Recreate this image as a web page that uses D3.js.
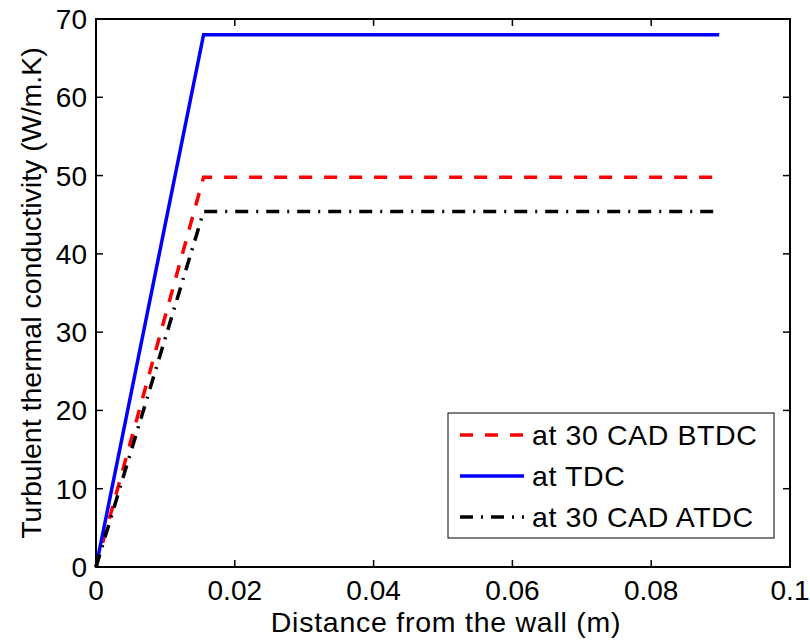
<!doctype html>
<html>
<head>
<meta charset="utf-8">
<style>
  body { margin: 0; background: #fff; }
  svg { display: block; font-family: "Liberation Sans", Arial, Helvetica, sans-serif; }
</style>
</head>
<body>
<svg></svg>
<script src="https://cdn.jsdelivr.net/npm/d3@7"></script>
<script>
// data
let distance = [0, 0.0155, 0.0898];
let btdc = [0, 49.8, 49.8];
let tdc = [0, 68, 68];
let atdc = [0, 45.4, 45.4];

let xTicks = [0, 0.02, 0.04, 0.06, 0.08, 0.1];
let yTicks = [0, 10, 20, 30, 40, 50, 60, 70];

let series = [
  { name: "at 30 CAD BTDC", values: btdc, color: "#ff0000", dash: "13,12" },
  { name: "at TDC", values: tdc, color: "#0000ff", dash: null },
  { name: "at 30 CAD ATDC", values: atdc, color: "#000000", dash: "13,8,2,8" }
];

let width = 810,
    height = 640;
let margin = { left: 96, right: 20, top: 19, bottom: 73 };

let svg = d3.select("svg")
    .attr("width", width)
    .attr("height", height);

let x = d3.scaleLinear()
    .domain([0, 0.1])
    .range([margin.left, width - margin.right]);

let y = d3.scaleLinear()
    .domain([0, 70])
    .range([height - margin.bottom, margin.top]);

let tickLen = 7;

// inward ticks on all four sides
let g = svg.append("g").attr("id", "ticks");
g.selectAll("line.xb").data(xTicks).enter().append("line")
    .attr("x1", d => x(d)).attr("x2", d => x(d))
    .attr("y1", y(0)).attr("y2", y(0) - tickLen);
g.selectAll("line.xt").data(xTicks).enter().append("line")
    .attr("x1", d => x(d)).attr("x2", d => x(d))
    .attr("y1", y(70)).attr("y2", y(70) + tickLen);
g.selectAll("line.yl").data(yTicks).enter().append("line")
    .attr("y1", d => y(d)).attr("y2", d => y(d))
    .attr("x1", x(0)).attr("x2", x(0) + tickLen);
g.selectAll("line.yr").data(yTicks).enter().append("line")
    .attr("y1", d => y(d)).attr("y2", d => y(d))
    .attr("x1", x(0.1)).attr("x2", x(0.1) - tickLen);
g.selectAll("line").attr("stroke", "black").attr("stroke-width", 1.5);

// tick labels
svg.append("g").selectAll("text").data(xTicks).enter().append("text")
    .attr("x", d => x(d))
    .attr("y", 600)
    .attr("text-anchor", "middle")
    .style("font-size", "28px")
    .text(d => d3.format("~g")(d));

svg.append("g").selectAll("text").data(yTicks).enter().append("text")
    .attr("x", x(0) - 9)
    .attr("y", d => y(d) + 10)
    .attr("text-anchor", "end")
    .style("font-size", "28px")
    .text(d => d);

// axis labels
svg.append("text")
    .attr("x", 446)
    .attr("y", 632)
    .attr("text-anchor", "middle")
    .style("font-size", "28.5px")
    .style("letter-spacing", "0.75px")
    .text("Distance from the wall (m)");

svg.append("text")
    .attr("transform", "translate(41," + (y(0) + y(70)) / 2 + ") rotate(-90)")
    .attr("text-anchor", "middle")
    .style("font-size", "28.5px")
    .text("Turbulent thermal conductivity (W/m.K)");

// lines
let line = d3.line()
    .x((d, i) => x(distance[i]))
    .y(d => y(d));

svg.append("g").attr("id", "lines")
    .selectAll("path")
    .data(series)
  .enter()
    .append("path")
    .attr("fill", "none")
    .attr("stroke", d => d.color)
    .attr("stroke-width", 3.5)
    .attr("stroke-dasharray", d => d.dash)
    .attr("d", d => line(d.values));

// box
svg.append("rect")
    .attr("x", x(0)).attr("y", y(70))
    .attr("width", x(0.1) - x(0))
    .attr("height", y(0) - y(70))
    .attr("fill", "none")
    .attr("stroke", "black")
    .attr("stroke-width", 2);

// legend
let legend = svg.append("g").attr("id", "legend");
legend.append("rect")
    .attr("x", 448).attr("y", 413)
    .attr("width", 326).attr("height", 125)
    .attr("fill", "white")
    .attr("stroke", "black")
    .attr("stroke-width", 1);

let rowY = [435, 476, 517];
let items = legend.selectAll("g.item")
    .data(series)
  .enter()
    .append("g");

items.append("line")
    .attr("x1", 460).attr("x2", 524)
    .attr("y1", (d, i) => rowY[i]).attr("y2", (d, i) => rowY[i])
    .attr("stroke", d => d.color)
    .attr("stroke-width", 3.5)
    .attr("stroke-dasharray", d => d.dash);

items.append("text")
    .attr("x", 532)
    .attr("y", (d, i) => rowY[i] + 10)
    .style("font-size", "28.5px")
    .style("letter-spacing", "0.6px")
    .text(d => d.name);
</script>
</body>
</html>
